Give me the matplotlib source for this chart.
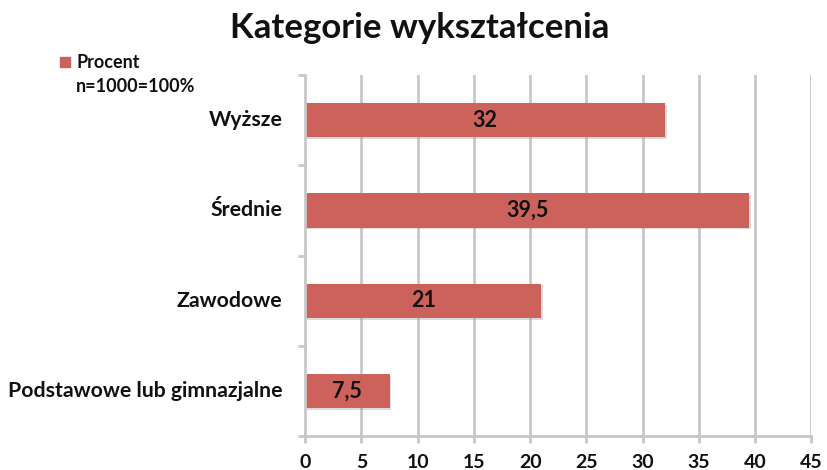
import matplotlib
matplotlib.use("Agg")
import matplotlib.pyplot as plt
import numpy as np

categories = ["Wyższe", "Średnie", "Zawodowe", "Podstawowe lub gimnazjalne"]
values = [32, 39.5, 21, 7.5]
value_labels = ["32", "39,5", "21", "7,5"]
xticks = [0, 5, 10, 15, 20, 25, 30, 35, 40, 45]

plt.rcParams['font.family'] = ['Lato', 'DejaVu Sans']

fig = plt.figure(figsize=(8.27, 4.70), dpi=100)
ax = fig.add_axes([0.369, 0.0723, 0.612, 0.768])

bar_color = "#CD625D"
grid_color = "#C8C8C8"
n = len(categories)
ypos = np.arange(n)[::-1]

ax.set_xlim(0, 45)
ax.set_ylim(-0.5, n - 0.5)
ax.set_xticks(xticks)
ax.set_xticklabels([str(t) for t in xticks], fontsize=14, fontweight='bold', color='#111111')
for t in xticks[1:]:
    ax.axvline(t, color=grid_color, lw=2, zorder=0)

# shadow
ax.barh(ypos - 0.02, values, height=0.38, left=0.15, color="#999999", alpha=0.35, zorder=1)
ax.barh(ypos, values, height=0.38, color=bar_color, zorder=2)
for y, v, lab in zip(ypos, values, value_labels):
    ax.text(v / 2, y, lab, ha='center', va='center', fontsize=15.5, fontweight='bold',
            color='#111111', zorder=3)

ax.set_yticks(np.arange(-0.5, n, 1.0))
ax.set_yticklabels([])
ax.tick_params(axis='y', length=5, color=grid_color, width=2, direction='out')
ax.tick_params(axis='x', length=5, color=grid_color, width=2, direction='out', pad=8)
for y, c in zip(ypos, categories):
    ax.text(-0.045, y, c, transform=ax.get_yaxis_transform(), ha='right', va='center',
            fontsize=15.3, fontweight='bold', color='#111111')

for s in ['top', 'right']:
    ax.spines[s].set_visible(False)
for s in ['left', 'bottom']:
    ax.spines[s].set_color(grid_color)
    ax.spines[s].set_linewidth(2)

fig.text(0.508, 0.94, "Kategorie wykształcenia", ha='center', va='center',
         fontsize=25, fontweight='bold', color='#111111')

fig.patches.append(plt.Rectangle((0.0725, 0.857), 0.012, 0.021, transform=fig.transFigure,
                                 color=bar_color, figure=fig))
fig.text(0.092, 0.866, "Procent", ha='left', va='center', fontsize=13, fontweight='bold', color='#111111')
fig.text(0.092, 0.816, "n=1000=100%", ha='left', va='center', fontsize=13, fontweight='bold', color='#111111')

fig.savefig("out.png", dpi=100)
